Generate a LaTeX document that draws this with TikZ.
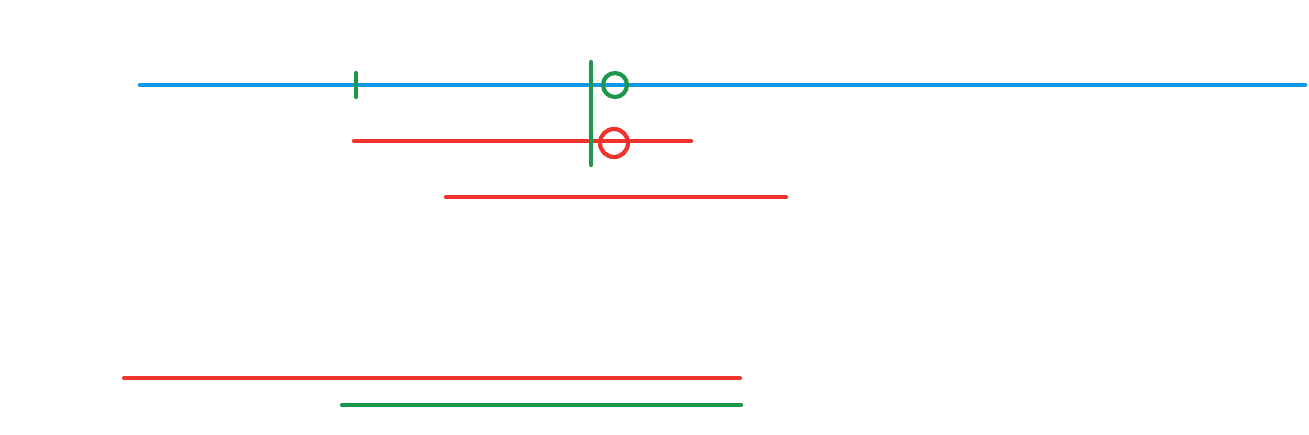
\documentclass[tikz,border=0pt]{standalone}
\definecolor{lineblue}{RGB}{18,152,235}
\definecolor{linered}{RGB}{238,52,44}
\definecolor{linegreen}{RGB}{30,150,75}
\tikzset{
  blueline/.style={color=lineblue,line width=2.6pt},
  redline/.style={color=linered,line width=2.4pt},
  greenline/.style={color=linegreen,line width=2.4pt}
}
\begin{document}
\begin{tikzpicture}[x=0.02cm,y=-0.02cm,line cap=round]
\useasboundingbox (0,0) rectangle (1309,434);
\draw[blueline] (140,85) -- (1305,85);
\draw[redline] (354,141) -- (691,141);
\draw[redline] (446,197) -- (786,197);
\draw[greenline] (356,73) -- (356,97);
\draw[greenline] (591,62) -- (591,165);
\draw[greenline] (615,85) circle[radius=12];
\draw[redline] (614,143) circle[radius=14];

\draw[redline] (124,378) -- (740,378);
\draw[greenline] (342,405) -- (741,405);
\end{tikzpicture}
\end{document}
